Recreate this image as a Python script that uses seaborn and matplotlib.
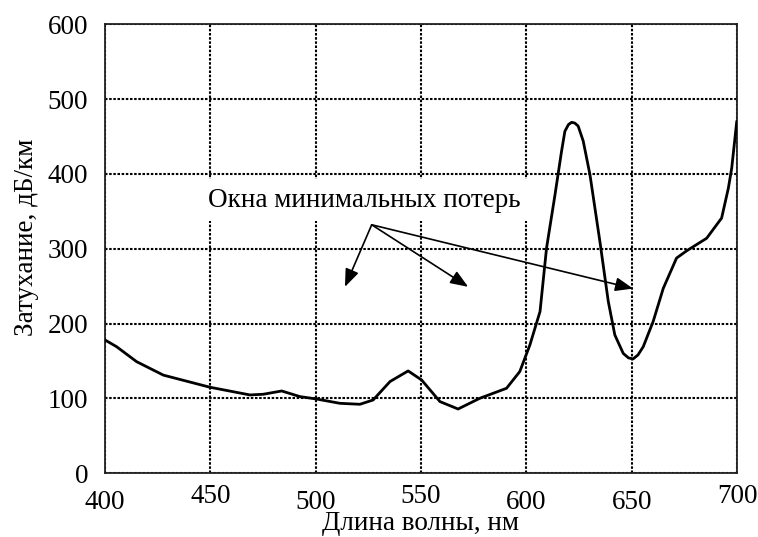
import matplotlib
matplotlib.use("Agg")
import matplotlib.pyplot as plt
import matplotlib.transforms as mtransforms
import seaborn as sns
import pandas as pd

wavelength = [400, 405.5, 415, 427.7, 449.8, 468.8, 475.1, 483.9, 492.5, 500.5, 511.5, 521,
              527.3, 535.3, 543.9, 550.3, 559, 567.6, 577.9, 590.6, 596.9, 601.7, 606.5,
              609.6, 613.6, 616.7, 618.3, 620, 621.5, 623, 624.6, 627, 630.2, 634.9, 638.9, 642,
              646, 648.5, 650.7, 653, 655.5, 660.2, 665, 671.3, 676, 685.6, 692.7, 695.9, 697.5, 699.9]
attenuation = [178, 169, 149, 131, 114.8, 104.5, 105.4, 109.8, 102.3, 99, 93.3, 92,
               97.8, 122.4, 136.6, 124.5, 95.6, 85.7, 100, 113.4, 135.8, 171.4, 216,
               301, 372, 430, 457, 466, 469, 468, 464, 444, 399, 310, 229.5, 184.8,
               160, 154, 152.7, 158, 169, 202.7, 247, 287.5, 297, 314, 341, 381, 408, 470.6]

x_ticks = [400, 450, 500, 550, 600, 650, 700]
y_ticks = [0, 100, 200, 300, 400, 500, 600]
x_label = "Длина волны, нм"
y_label = "Затухание, дБ/км"
note_text = "Окна минимальных потерь"
arrow_origin = (526.6, 332)
arrow_tips = [(513.9, 249), (572.4, 249), (650.7, 246.7)]

sns.set_theme(style="white")
plt.rcParams['font.family'] = ['Liberation Serif', 'DejaVu Serif']

df = pd.DataFrame({"wl": wavelength, "att": attenuation})

fig = plt.figure(figsize=(7.58, 5.37), dpi=100)
ax = fig.add_axes([0.1385, 0.1190, 0.8338, 0.8357])

ax.grid(True, which="major", color="black", linestyle=(0, (1.2, 0.8)), linewidth=1.5)
ax.set_axisbelow(True)

sns.lineplot(data=df, x="wl", y="att", ax=ax, color="black", linewidth=2.0, zorder=3)

ax.set_xlim(400, 700)
ax.set_ylim(0, 600)
ax.set_xticks(x_ticks)
ax.set_yticks(y_ticks)
ax.set_xticklabels([str(v) for v in x_ticks], fontsize=19.5)
ax.set_yticklabels([str(v) for v in y_ticks], fontsize=19.5)
ax.tick_params(axis="both", length=0, colors="black")
ax.tick_params(axis="x", pad=12)
ax.tick_params(axis="y", pad=12)

# staggered x tick labels as in the reference
raise_labels = {450, 550, 700}
for lbl, v in zip(ax.get_xticklabels(), x_ticks):
    if v in raise_labels:
        lbl.set_transform(lbl.get_transform() + mtransforms.ScaledTranslation(0, 4.5 / 72, fig.dpi_scale_trans))

ax.set_xlabel(x_label, fontsize=19.5, color="black")
ax.set_ylabel(y_label, fontsize=19.5, color="black")
ax.xaxis.set_label_coords(0.5, -0.085)
ax.yaxis.set_label_coords(-0.105, 0.525)

for s in ax.spines.values():
    s.set_color("#222222")
    s.set_linewidth(1.3)

ax.text(449, 365, note_text, fontsize=19.5, color="black", va="center", ha="left",
        bbox=dict(facecolor="white", edgecolor="none", pad=6), zorder=2)

for tip in arrow_tips:
    ax.annotate("", xy=tip, xytext=arrow_origin,
                arrowprops=dict(arrowstyle="-|>,head_length=0.9,head_width=0.35",
                                color="black", lw=1.2, shrinkA=0, shrinkB=0),
                zorder=4)

fig.savefig("out.png", dpi=100, facecolor="white")
